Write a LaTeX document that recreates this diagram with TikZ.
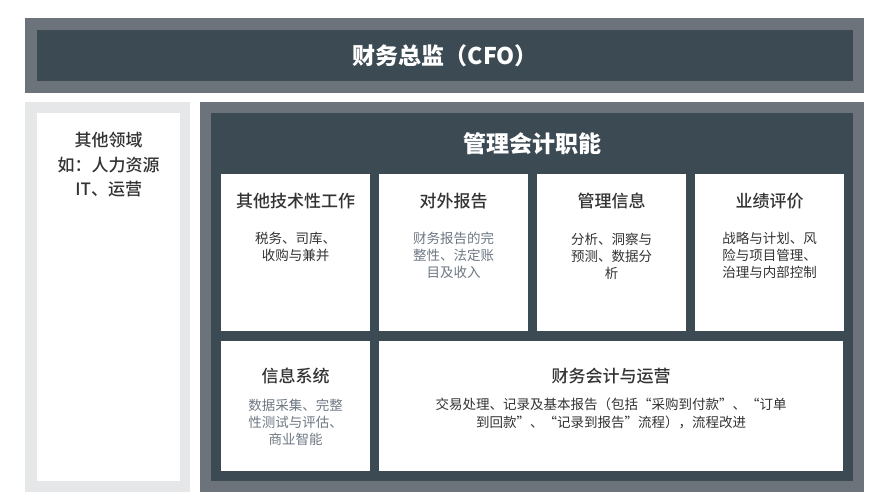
\documentclass[tikz,border=0pt]{standalone}
\usepackage{fontspec}
\setmainfont{Noto Sans CJK SC}
\newfontfamily\medium{Noto Sans CJK SC Medium}
\usetikzlibrary{positioning}
\definecolor{frameGray}{HTML}{6C737A}
\definecolor{slate}{HTML}{3C4A53}
\definecolor{paleGray}{HTML}{E6E7E8}
\definecolor{inkDark}{HTML}{333333}
\definecolor{inkSoft}{HTML}{6E7883}
\tikzset{
    panel/.style={fill=#1, draw=none, anchor=north west, inner sep=0pt},
    card/.style={panel=white},
    headtext/.style={text=white, inner sep=0pt, font=\fontsize{23}{26}\selectfont\bfseries},
    sidetext/.style={text=inkDark, inner sep=0pt, align=center, font=\fontsize{17}{24.5}\selectfont\medium},
    cardtitle/.style={text=inkDark, inner sep=0pt, font=\fontsize{17}{20}\selectfont\medium},
    cardbody/.style={text=#1, inner sep=0pt, align=center, font=\fontsize{13.5}{17}\selectfont},
    cardbody/.default={inkDark}
}
\begin{document}
\begin{tikzpicture}[x=1pt, y=-1pt]
    \def \cw {149}
    \def \ch {157}
    \useasboundingbox (0,0) rectangle (885,499);
    % CFO band
    \node[panel=frameGray, minimum width=839pt, minimum height=75pt] (cfoFrame) at (25,18) {};
    \node[panel=slate, minimum width=816pt, minimum height=51pt] (cfo) at (37,30) {};
    \node[headtext] (cfoT) at (cfo.center) {财务总监（CFO）};
    % other areas
    \node[panel=paleGray, minimum width=165pt, minimum height=390pt] (otherFrame) at (25,102) {};
    \node[panel=white, minimum width=143pt, minimum height=368pt] (other) at (37,113) {};
    \node[sidetext, below=19pt of other.north] (otherT) {其他领域\\如：人力资源\\IT、运营};
    % management accounting
    \node[panel=frameGray, minimum width=664pt, minimum height=390pt] (maFrame) at (200,102) {};
    \node[panel=slate, minimum width=642pt, minimum height=368pt] (ma) at (211,113) {};
    \node[headtext, below=19pt of ma.north] (maT) {管理会计职能};
    % first row of cards
    \node[card, minimum width=\cw pt, minimum height=\ch pt] (tech) at (221,174) {};
    \node[card, minimum width=\cw pt, minimum height=\ch pt] (ext) at (379,174) {};
    \node[card, minimum width=\cw pt, minimum height=\ch pt] (mgmt) at (537,174) {};
    \node[card, minimum width=\cw pt, minimum height=\ch pt] (perf) at (695,174) {};
    \node[cardtitle, below=19pt of tech.north] (techT) {其他技术性工作};
    \node[cardtitle, below=19pt of ext.north] (extT) {对外报告};
    \node[cardtitle, below=19pt of mgmt.north] (mgmtT) {管理信息};
    \node[cardtitle, below=19pt of perf.north] (perfT) {业绩评价};
    \node[cardbody, below=23pt of techT] (techB) {税务、司库、\\收购与兼并};
    \node[cardbody=inkSoft, below=23pt of extT] (extB) {财务报告的完\\整性、法定账\\目及收入};
    \node[cardbody, below=23pt of mgmtT] (mgmtB) {分析、洞察与\\预测、数据分\\析};
    \node[cardbody, below=23pt of perfT] (perfB) {战略与计划、风\\险与项目管理、\\治理与内部控制};
    % second row of cards
    \node[card, minimum width=\cw pt, minimum height=130pt] (info) at (221,341) {};
    \node[card, minimum width=464pt, minimum height=130pt] (acct) at (379,341) {};
    \node[cardtitle, below=27pt of info.north] (infoT) {信息系统};
    \node[cardtitle, below=27pt of acct.north] (acctT) {财务会计与运营};
    \node[cardbody=inkSoft, below=14pt of infoT] (infoB) {数据采集、完整\\性测试与评估、\\商业智能};
    \node[cardbody, below=13pt, font=\fontsize{13.5}{18.5}\selectfont] at (acctT.south) (acctB) {交易处理、记录及基本报告（包括“采购到付款”、“订单\\到回款”、“记录到报告”流程），流程改进};
\end{tikzpicture}
\end{document}
